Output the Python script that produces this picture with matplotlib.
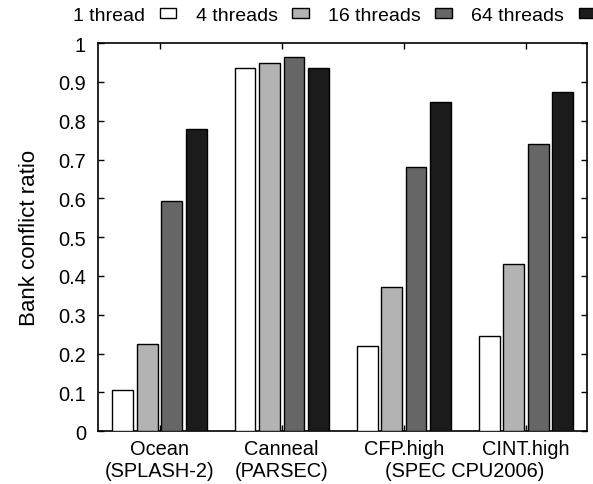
import numpy as np
import matplotlib
matplotlib.use("Agg")
import matplotlib.pyplot as plt
from matplotlib.ticker import FuncFormatter

plt.rcParams.update(
    {
        "font.family": ["Liberation Sans", "DejaVu Sans"],
        "font.size": 14.4,
    }
)

benchmarks = ["Ocean\n(SPLASH-2)", "Canneal\n(PARSEC)", "CFP.high", "CINT.high"]
suite_label = "(SPEC CPU2006)"
series_names = ["1 thread", "4 threads", "16 threads", "64 threads"]
t1 = [0.106, 0.935, 0.219, 0.245]
t4 = [0.225, 0.950, 0.371, 0.431]
t16 = [0.592, 0.965, 0.682, 0.740]
t64 = [0.779, 0.937, 0.847, 0.875]
colors = ["#ffffff", "#b3b3b3", "#666666", "#1b1b1b"]

fig = plt.figure(figsize=(5.93, 4.85), dpi=100)
ax = fig.add_axes([0.166, 0.109, 0.824, 0.800])

x = np.arange(len(benchmarks))
width = 0.17
offsets = [-0.3, -0.1, 0.1, 0.3]
for vals, name, c, off in zip([t1, t4, t16, t64], series_names, colors, offsets):
    ax.bar(x + off, vals, width, color=c, edgecolor="black", linewidth=1.0,
           label=name, zorder=3)

ax.set_xlim(-0.5, 3.5)
ax.set_ylim(0, 1)
ax.set_yticks(np.arange(0, 1.01, 0.1))
ax.yaxis.set_major_formatter(FuncFormatter(lambda v, p: "%g" % round(v, 1)))
ax.set_xticks(x)
ax.set_xticklabels(benchmarks)
ax.tick_params(axis="both", direction="in", length=4, width=1,
               top=True, right=True)
ax.tick_params(axis="y", pad=9)
ax.tick_params(axis="x", pad=5.5)
for s in ax.spines.values():
    s.set_linewidth(1.2)
ax.set_axisbelow(True)

# second line shared by the two SPEC groups
ax.annotate(suite_label, xy=(2.5, 0), xycoords=("data", "axes fraction"),
            xytext=(0, -32.4), textcoords="offset points",
            ha="center", va="baseline")

ax.set_ylabel("Bank conflict ratio", fontsize=16, labelpad=13)

ax.legend(ncol=4, markerfirst=False, frameon=False, loc="center right",
          bbox_to_anchor=(1.004, 0.966), bbox_transform=fig.transFigure,
          fontsize=14, handlelength=0.85, handleheight=0.45,
          handletextpad=0.75, columnspacing=1.0, borderaxespad=0,
          borderpad=0)

plt.savefig("out.png", dpi=100)
